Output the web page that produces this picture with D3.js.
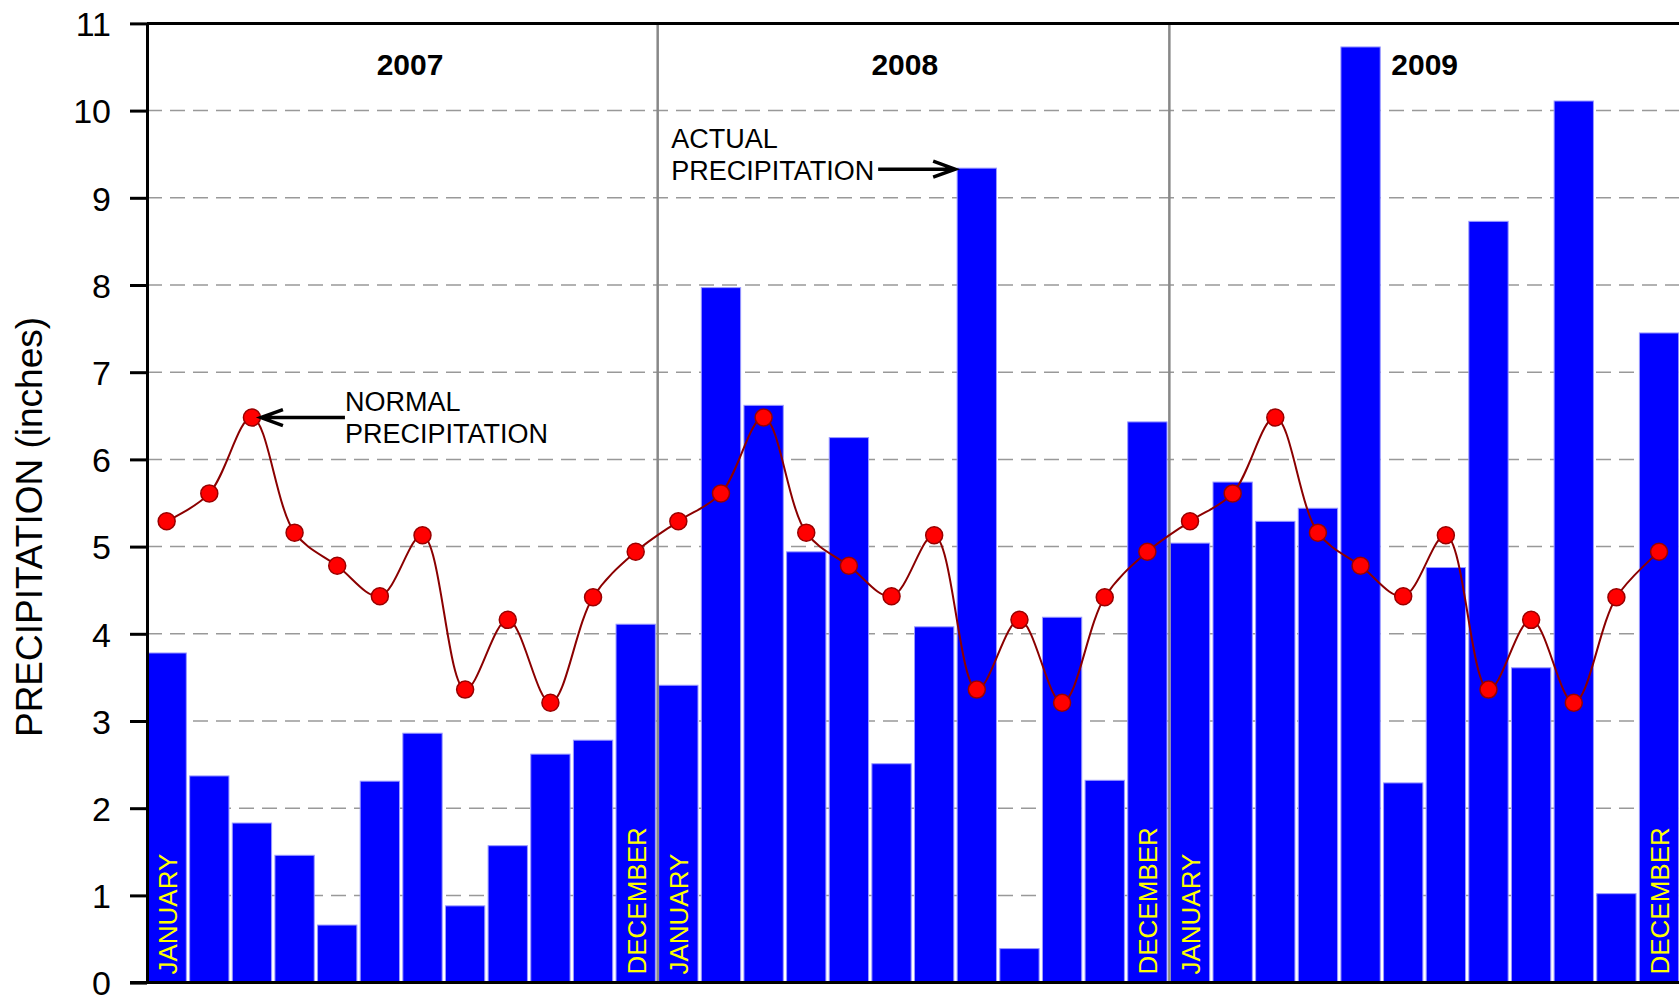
<!DOCTYPE html>
<html>
<head>
<meta charset="utf-8">
<script src="https://cdn.jsdelivr.net/npm/d3@7"></script>
<style>
  body { margin: 0; background: #fff; }
  text { font-family: "Liberation Sans", Arial, Helvetica, sans-serif; }
</style>
</head>
<body>
<svg id="chart"></svg>
<script>
// month names (only first and last are written on the bars)
var months = ["JANUARY", "FEBRUARY", "MARCH", "APRIL", "MAY", "JUNE", "JULY",
    "AUGUST", "SEPTEMBER", "OCTOBER", "NOVEMBER", "DECEMBER"]

var years = ["2007", "2008", "2009"]

// actual monthly precipitation, inches
var actual2007 = [3.78, 2.37, 1.83, 1.46, 0.66, 2.31, 2.86, 0.88, 1.57, 2.62, 2.78, 4.11]
var actual2008 = [3.41, 7.97, 6.62, 4.94, 6.25, 2.51, 4.08, 9.34, 0.39, 4.19, 2.32, 6.43]
var actual2009 = [5.04, 5.74, 5.29, 5.44, 10.73, 2.29, 4.76, 8.73, 3.61, 10.11, 1.02, 7.45]

// normal monthly precipitation, inches (same every year)
var normal2007 = [5.29, 5.61, 6.48, 5.16, 4.78, 4.43, 5.13, 3.36, 4.16, 3.21, 4.42, 4.94]
var normal2008 = [5.29, 5.61, 6.48, 5.16, 4.78, 4.43, 5.13, 3.36, 4.16, 3.21, 4.42, 4.94]
var normal2009 = [5.29, 5.61, 6.48, 5.16, 4.78, 4.43, 5.13, 3.36, 4.16, 3.21, 4.42, 4.94]

var yTicks = [0, 1, 2, 3, 4, 5, 6, 7, 8, 9, 10, 11]

var width = 1679,
    height = 995

var margin = { left: 147, top: 23.4, bottom: 12.4 }
var step = 42.64

var svg, xScale, yScale

window.onload = () => {
    var actual = [actual2007, actual2008, actual2009]
    var normal = [normal2007, normal2008, normal2009]

    // flatten into one row per month
    var data = []
    years.forEach((yr, yi) => {
        months.forEach((m, mi) => {
            data.push({ i: yi * 12 + mi, year: yr, month: m, actual: actual[yi][mi], normal: normal[yi][mi] })
        })
    })

    svg = d3.select("#chart")
        .attr("width", width)
        .attr("height", height)

    xScale = d3.scaleBand()
        .domain(data.map(d => d.i))
        .range([margin.left, margin.left + step * data.length])
        .padding(0)

    yScale = d3.scaleLinear()
        .domain([0, 11])
        .range([height - margin.bottom, margin.top])

    var barW = xScale.bandwidth() * 0.922
    var cx = d => xScale(d.i) + barW / 2

    // dashed grid lines
    svg.append("g")
        .selectAll("line")
        .data(yTicks.filter(t => t > 0 && t < 11))
        .join("line")
        .attr("x1", margin.left)
        .attr("x2", width)
        .attr("y1", d => yScale(d))
        .attr("y2", d => yScale(d))
        .attr("stroke", "#999")
        .attr("stroke-width", 1.5)
        .attr("stroke-dasharray", "15,8")

    // bars
    svg.append("g")
        .selectAll("rect")
        .data(data)
        .join("rect")
        .attr("x", d => xScale(d.i))
        .attr("y", d => yScale(d.actual))
        .attr("width", barW)
        .attr("height", d => yScale(0) - yScale(d.actual))
        .attr("fill", "#0000ff")
        .attr("stroke", "#9a9aff")
        .attr("stroke-width", 1)

    // year dividers
    svg.append("g")
        .selectAll("line")
        .data([12, 24])
        .join("line")
        .attr("x1", d => xScale(d) - 1)
        .attr("x2", d => xScale(d) - 1)
        .attr("y1", yScale(11))
        .attr("y2", yScale(0))
        .attr("stroke", "#888")
        .attr("stroke-width", 2.5)

    // month labels in the first and last bar of each year
    svg.append("g")
        .selectAll("text")
        .data(data.filter(d => d.month == "JANUARY" || d.month == "DECEMBER"))
        .join("text")
        .attr("transform", d => "translate(" + (cx(d) + 10) + "," + (yScale(0) - 8) + ") rotate(-90)")
        .attr("fill", "#ffff00")
        .attr("font-size", 26)
        .text(d => d.month)

    // normal precipitation line
    var lineGenerator = d3.line()
        .x(cx)
        .y(d => yScale(d.normal))
        .curve(d3.curveCatmullRom)

    svg.append("path")
        .datum(data)
        .attr("d", lineGenerator)
        .attr("fill", "none")
        .attr("stroke", "#8b0000")
        .attr("stroke-width", 2)

    svg.append("g")
        .selectAll("circle")
        .data(data)
        .join("circle")
        .attr("cx", cx)
        .attr("cy", d => yScale(d.normal))
        .attr("r", 8.5)
        .attr("fill", "#ff0000")
        .attr("stroke", "#990000")
        .attr("stroke-width", 1.5)

    // y axis
    var yAxis = d3.axisLeft(yScale)
        .tickValues(yTicks)
        .tickSize(17)
        .tickSizeOuter(0)
        .tickPadding(19)

    var ay = svg.append("g")
        .attr("transform", "translate(" + margin.left + ",0)")
        .call(yAxis)
    ay.select(".domain").attr("stroke", "#000").attr("stroke-width", 3)
    ay.selectAll(".tick line").attr("stroke", "#000").attr("stroke-width", 3)
    ay.selectAll(".tick text")
        .attr("font-size", 34)
        .attr("font-family", "Liberation Sans, Arial, sans-serif")
        .attr("fill", "#000")
        .attr("dy", "0.36em")

    // top frame and bottom axis line
    svg.append("line")
        .attr("x1", margin.left).attr("x2", width)
        .attr("y1", yScale(11)).attr("y2", yScale(11))
        .attr("stroke", "#000").attr("stroke-width", 3)
    svg.append("line")
        .attr("x1", margin.left - 17).attr("x2", width)
        .attr("y1", yScale(0)).attr("y2", yScale(0))
        .attr("stroke", "#000").attr("stroke-width", 3)

    // y axis title
    svg.append("text")
        .attr("transform", "translate(42," + 527 + ") rotate(-90)")
        .attr("text-anchor", "middle")
        .attr("font-size", 37)
        .text("PRECIPITATION (inches)")

    // year labels
    var yearPos = [0.514, 0.481, 0.497]
    svg.append("g")
        .selectAll("text")
        .data(years)
        .join("text")
        .attr("x", (d, i) => xScale(i * 12) + yearPos[i] * step * 12)
        .attr("y", 75)
        .attr("text-anchor", "middle")
        .attr("font-size", 30)
        .attr("font-weight", "bold")
        .text(d => d)

    // annotations
    function arrow(x1, y1, x2, y2) {
        var dir = Math.sign(x2 - x1)
        svg.append("path")
            .attr("d", "M" + x1 + "," + y1 + "L" + x2 + "," + y2 +
                "M" + (x2 - dir * 22) + "," + (y2 - 8) + "L" + x2 + "," + y2 + "L" + (x2 - dir * 22) + "," + (y2 + 8))
            .attr("fill", "none")
            .attr("stroke", "#000")
            .attr("stroke-width", 3.5)
            .attr("stroke-linejoin", "miter")
    }

    var mar = data[2]
    var nx = cx(mar) + 9, ny = yScale(mar.normal)
    arrow(nx + 84, ny, nx, ny)
    var nt = svg.append("text").attr("font-size", 27)
    nt.append("tspan").attr("x", nx + 84).attr("y", ny - 7).text("NORMAL")
    nt.append("tspan").attr("x", nx + 84).attr("y", ny + 25).text("PRECIPITATION")

    var aug = data[19]
    var ax = xScale(aug.i) - 2, ayy = yScale(aug.actual) + 1
    arrow(ax - 77, ayy, ax, ayy)
    var at = svg.append("text").attr("font-size", 27)
    at.append("tspan").attr("x", ax - 284).attr("y", ayy - 21).text("ACTUAL")
    at.append("tspan").attr("x", ax - 284).attr("y", ayy + 11).text("PRECIPITATION")
}
</script>
</body>
</html>
